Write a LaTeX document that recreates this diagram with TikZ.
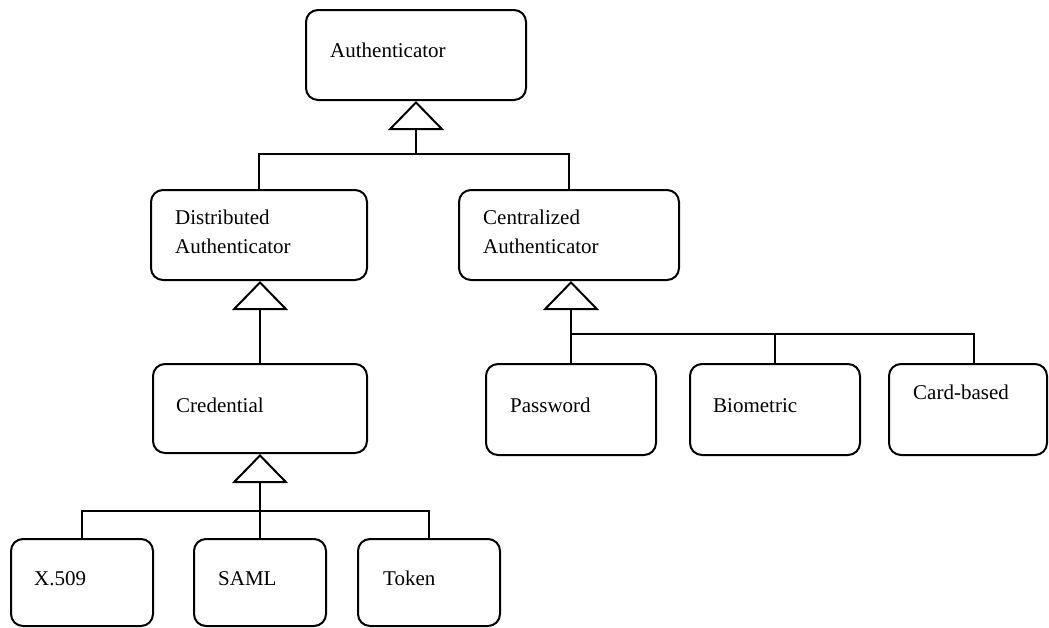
\documentclass[tikz,border=0pt]{standalone}
\usepackage{fontspec}
\setmainfont{Liberation Serif}
\usetikzlibrary{arrows.meta}
\begin{document}
\begin{tikzpicture}[x=1pt,y=-1pt,
  box/.style={draw, line width=2pt, rounded corners=12pt, inner sep=0pt, rectangle},
  lbl/.style={anchor=base west, inner sep=0pt, font=\fontsize{21}{25}\selectfont},
  wire/.style={line width=2pt},
  gen/.style={line width=2pt, -{Triangle[open, length=29pt, width=56pt]}, line join=miter}]
\useasboundingbox (0,0) rectangle (1049,627);
\clip (0,0) rectangle (1049,627);

% class boxes
\node[box, minimum width=220pt, minimum height=90pt] (auth) at (416,55) {};
\node[box, minimum width=216pt, minimum height=90pt] (dist) at (259,235) {};
\node[box, minimum width=220pt, minimum height=90pt] (cent) at (569,235) {};
\node[box, minimum width=214pt, minimum height=89pt] (cred) at (260,408.5) {};
\node[box, minimum width=170pt, minimum height=91pt] (pass) at (571,409.5) {};
\node[box, minimum width=170pt, minimum height=91pt] (bio) at (775,409.5) {};
\node[box, minimum width=158pt, minimum height=91pt] (card) at (968,409.5) {};
\node[box, minimum width=142pt, minimum height=87pt] (x509) at (82,582.5) {};
\node[box, minimum width=132pt, minimum height=87pt] (saml) at (260,582.5) {};
\node[box, minimum width=142pt, minimum height=87pt] (token) at (429,582.5) {};

% class names
\node[lbl] (tauth) at (330,57) {Authenticator};
\node[lbl] (tdist1) at (175,224) {Distributed};
\node[lbl] (tdist2) at (175,253) {Authenticator};
\node[lbl] (tcent1) at (483,224) {Centralized};
\node[lbl] (tcent2) at (483,253) {Authenticator};
\node[lbl] (tcred) at (176,412) {Credential};
\node[lbl] (tpass) at (510,412) {Password};
\node[lbl] (tbio) at (713,412) {Biometric};
\node[lbl] (tcard) at (913,399) {Card-based};
\node[lbl] (tx509) at (34,585) {X.509};
\node[lbl] (tsaml) at (218,585) {SAML};
\node[lbl] (ttoken) at (383,585) {Token};

% generalization: Authenticator
\coordinate (j1) at (416,154);
\draw[gen] (j1) -- (auth.south);
\draw[wire] (dist.north) |- (j1) -| (cent.north);

% generalization: Distributed Authenticator
\draw[gen] (cred.north) -- (cred.north |- dist.south);

% generalization: Centralized Authenticator
\coordinate (j2) at (572,334);
\draw[gen] (pass.north) -- (pass.north |- cent.south);
\draw[wire] (j2) -| (bio.north);
\draw[wire] (bio.north |- j2) -| ([xshift=6pt]card.north);

% generalization: Credential
\coordinate (j3) at (260,511);
\draw[gen] (saml.north) -- (saml.north |- cred.south);
\draw[wire] (x509.north) |- (j3) -| (token.north);
\end{tikzpicture}
\end{document}
